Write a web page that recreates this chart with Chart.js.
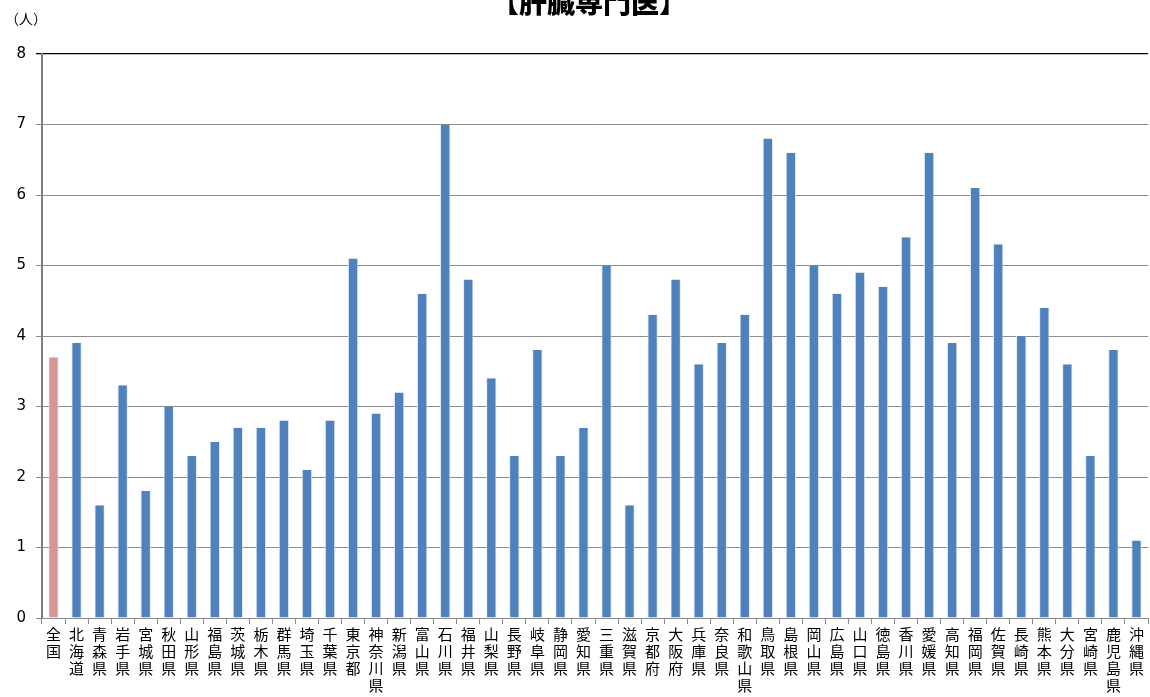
<!DOCTYPE html>
<html>
<head>
<meta charset="utf-8">
<script src="https://cdn.jsdelivr.net/npm/chart.js@4.4.0/dist/chart.umd.min.js"></script>
<style>
  html, body { margin: 0; padding: 0; background: #fff; }
  #wrap { width: 1150px; height: 697px; position: relative; }
</style>
</head>
<body>
<div id="wrap"><canvas id="myChart" width="1150" height="697"></canvas></div>
<script>
const prefectures = [
    "全国", "北海道", "青森県", "岩手県", "宮城県", "秋田県", "山形県", "福島県",
    "茨城県", "栃木県", "群馬県", "埼玉県", "千葉県", "東京都", "神奈川県", "新潟県",
    "富山県", "石川県", "福井県", "山梨県", "長野県", "岐阜県", "静岡県", "愛知県",
    "三重県", "滋賀県", "京都府", "大阪府", "兵庫県", "奈良県", "和歌山県", "鳥取県",
    "島根県", "岡山県", "広島県", "山口県", "徳島県", "香川県", "愛媛県", "高知県",
    "福岡県", "佐賀県", "長崎県", "熊本県", "大分県", "宮崎県", "鹿児島県", "沖縄県"
];
const doctors = [
    3.7, 3.9, 1.6, 3.3, 1.8, 3.0, 2.3, 2.5,
    2.7, 2.7, 2.8, 2.1, 2.8, 5.1, 2.9, 3.2,
    4.6, 7.0, 4.8, 3.4, 2.3, 3.8, 2.3, 2.7,
    5.0, 1.6, 4.3, 4.8, 3.6, 3.9, 4.3, 6.8,
    6.6, 5.0, 4.6, 4.9, 4.7, 5.4, 6.6, 3.9,
    6.1, 5.3, 4.0, 4.4, 3.6, 2.3, 3.8, 1.1
];
const yTicks = [0, 1, 2, 3, 4, 5, 6, 7, 8];
const chartTitle = "【肝臓専門医】";
const unitLabel = "（人）";

const FONT = "'Noto Sans CJK JP', 'Noto Sans', sans-serif";

// vertical labels: one character per line
let labels = prefectures.map((p) => p.split(""));
let colors = prefectures.map((p, i) => (i == 0 ? "#D99594" : "#4F81BD"));

const textPlugin = {
    id: "textPlugin",
    afterDraw(chart) {
        let ctx = chart.ctx;
        ctx.save();
        ctx.fillStyle = "#000";
        ctx.textAlign = "center";
        ctx.textBaseline = "alphabetic";
        ctx.font = "900 28px " + FONT;
        ctx.fillText(chartTitle, 589, 13);
        ctx.textAlign = "left";
        ctx.font = "14px " + FONT;
        ctx.fillText(unitLabel, 5, 24);
        ctx.restore();
    },
};

new Chart(document.getElementById("myChart"), {
    type: "bar",
    data: {
        labels: labels,
        datasets: [
            {
                data: doctors,
                backgroundColor: colors,
                borderColor: "rgba(220,230,245,0.9)",
                borderWidth: { left: 1, right: 1, top: 0, bottom: 0 },
                barPercentage: 0.45,
                categoryPercentage: 1.0,
            },
        ],
    },
    options: {
        responsive: false,
        animation: { duration: 0 },
        layout: { padding: { top: 54, right: 2, left: 0, bottom: 0 } },
        plugins: { legend: { display: false }, tooltip: { enabled: false }, title: { display: false } },
        scales: {
            x: {
                grid: {
                    offset: true,
                    drawOnChartArea: false,
                    drawTicks: true,
                    tickLength: 6,
                    color: "#8c8c8c",
                },
                border: { color: "#8c8c8c", width: 1 },
                ticks: {
                    maxRotation: 0,
                    minRotation: 0,
                    autoSkip: false,
                    color: "#000",
                    padding: 2,
                    font: { family: FONT, size: 15, lineHeight: 1.13 },
                },
                afterFit(scale) {
                    scale.height = 79;
                },
            },
            y: {
                min: 0,
                max: 8,
                afterBuildTicks(scale) {
                    scale.ticks = yTicks.map((v) => ({ value: v }));
                },
                grid: {
                    color: (c) => (c.tick && c.tick.value == 8 ? "#000" : "#8c8c8c"),
                    lineWidth: (c) => (c.tick && c.tick.value == 8 ? 1.3 : 1),
                    tickLength: 6,
                    drawTicks: true,
                },
                border: { color: "#7f7f7f", width: 2 },
                ticks: {
                    color: "#000",
                    padding: 10,
                    font: { family: "'DejaVu Sans', sans-serif", size: 15 },
                },
                afterFit(scale) {
                    scale.width = 42;
                },
            },
        },
    },
    plugins: [textPlugin],
});
</script>
</body>
</html>
